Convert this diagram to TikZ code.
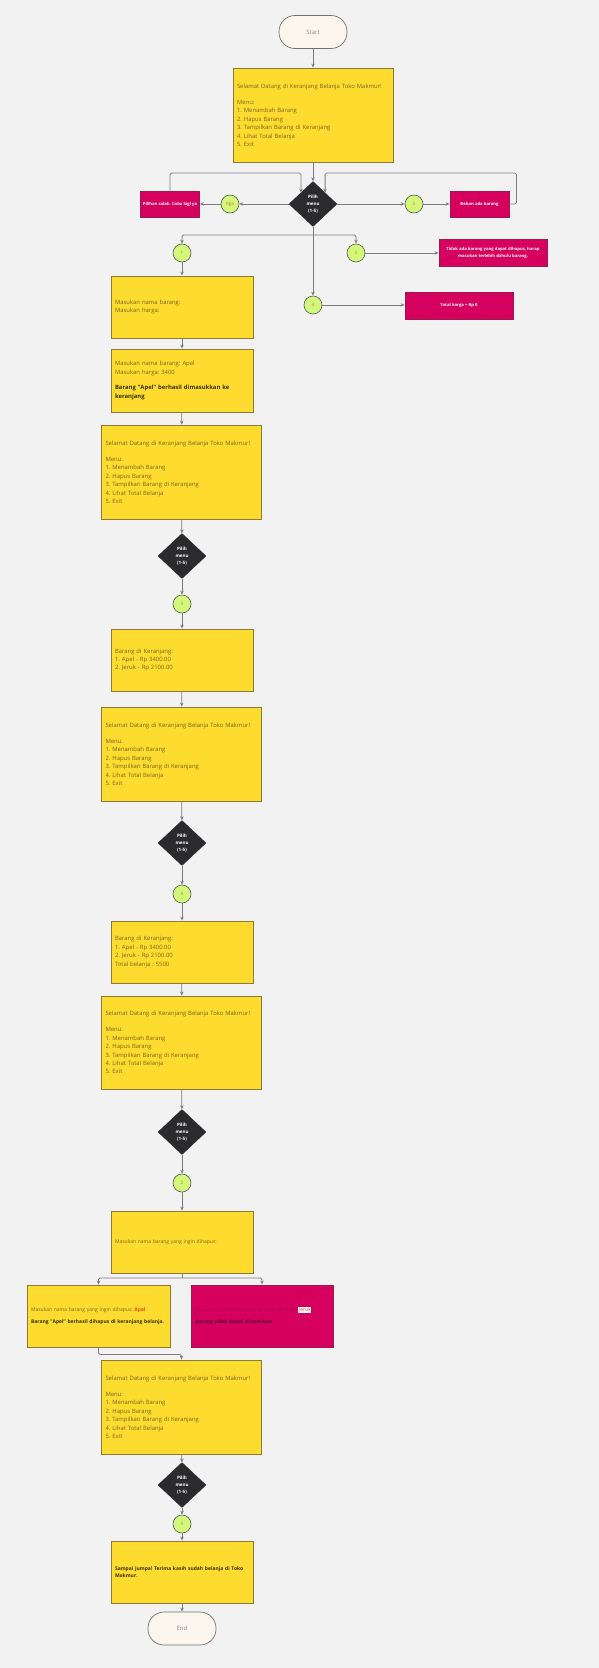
\documentclass[tikz,border=0pt]{standalone}
\usepackage{fontspec}
\setmainfont{Open Sans}
\usetikzlibrary{shapes.geometric,arrows.meta}
\definecolor{bg}{HTML}{F2F2F2}
\definecolor{yel}{HTML}{FDDB2F}
\definecolor{ybd}{HTML}{8B7B3A}
\definecolor{ytxt}{HTML}{7A6620}
\definecolor{ybold}{HTML}{3A3000}
\definecolor{mag}{HTML}{D6005F}
\definecolor{rbd}{HTML}{9A1B50}
\definecolor{mtxt}{HTML}{A80E50}
\definecolor{mbold}{HTML}{5A0E30}
\definecolor{grn}{HTML}{D2F77A}
\definecolor{circd}{HTML}{555555}
\definecolor{ctxt}{HTML}{E0701A}
\definecolor{diaf}{HTML}{2B2B2E}
\definecolor{termf}{HTML}{FAF6EE}
\definecolor{termd}{HTML}{707070}
\definecolor{termt}{HTML}{8A8A8A}
\definecolor{arrc}{HTML}{7D7D7D}
\definecolor{apel}{HTML}{F04A10}
\newcommand\myfsmall{\fontsize{5}{6.5}\selectfont}
\begin{document}
\frenchspacing
\hyphenpenalty=10000
\exhyphenpenalty=10000
\begin{tikzpicture}[x=1pt,y=-1pt,
  arr/.style={draw=arrc, line width=0.8pt, rounded corners=1.5pt, -{Stealth[length=4pt,width=3.5pt]}},
  ln/.style={draw=arrc, line width=0.8pt},
  term/.style={draw=termd, fill=termf, rounded corners=16pt, minimum width=68pt, minimum height=33pt, line width=0.7pt, text=termt, font=\fontsize{6}{7}\selectfont, inner sep=0pt},
  ybox/.style={draw=ybd, fill=yel, line width=0.8pt, inner xsep=4pt, inner ysep=0pt, align=left, text=ytxt, font=\fontsize{5.9}{8.4}\selectfont},
  menubox/.style={ybox, text width=152pt, minimum height=94pt},
  sbox/.style={ybox, text width=134pt, minimum height=62pt},
  dbox/.style={draw=rbd, fill=mag, line width=0.8pt, inner xsep=4pt, inner ysep=0pt, align=left, text=mtxt, font=\myfsmall, text width=134pt, minimum height=62pt},
  rbox/.style={draw=rbd, fill=mag, line width=0.8pt, text=white, font=\fontsize{4.2}{7}\selectfont\bfseries, align=center, inner sep=0pt},
  dia/.style={diamond, fill=diaf, draw=diaf, minimum width=48pt, minimum height=45pt, inner sep=0pt, text=white, font=\fontsize{4.5}{7}\selectfont\bfseries, align=center},
  circ/.style={circle, fill=grn, draw=circd, line width=0.6pt, minimum size=18pt, inner sep=0pt, text=ctxt, font=\fontsize{4.5}{5}\selectfont}
]
\fill[bg] (0,0) rectangle (599,1668);
\useasboundingbox (0,0) rectangle (599,1668);

% top part
\node[term] (start) at (313,32) {Start};
\node[menubox] (menu1) at (313,115) {\mbox{Selamat Datang di Keranjang Belanja Toko Makmur!}\\[8pt]Menu:\\1. Menambah Barang\\2. Hapus Barang\\3. Tampilkan Barang di Keranjang\\4. Lihat Total Belanja\\5. Exit};
\node[dia] (dia1) at (313,204) {Pilih\\menu\\(1-5)};
\node[rbox, minimum width=59pt, minimum height=26pt] (wrong) at (170,204) {Pilihan salah. Coba lagi ya};
\node[circ] (tiga) at (230,204) {tiga};
\node[circ] (c2a) at (414,204) {2};
\node[rbox, minimum width=59pt, minimum height=26pt] (belum) at (479.5,204) {Belum ada barang};
\node[circ] (c1) at (182,253) {1};
\node[circ] (c3a) at (356,253) {3};
\node[rbox, minimum width=108pt, minimum height=27pt] (tidak) at (493,252.5) {Tidak ada barang yang dapat dihapus, harap\\masukan terlebih dahulu barang.};
\node[circ] (c4a) at (313,305) {4};
\node[rbox, minimum width=108pt, minimum height=27pt] (total0) at (459,305.5) {Total harga = Rp 0};

% column
\node[sbox] (in1) at (182,307) {Masukan nama barang:\\Masukan harga:};
\node[sbox, minimum height=63pt] (in2) at (182,380.5) {Masukan nama barang: Apel\\Masukan harga: 3400\\[7pt]{\color{ybold}\bfseries Barang "Apel" berhasil dimasukkan ke}\\{\color{ybold}\bfseries keranjang}};
\node[menubox] (menu2) at (181.5,472) {\mbox{Selamat Datang di Keranjang Belanja Toko Makmur!}\\[8pt]Menu:\\1. Menambah Barang\\2. Hapus Barang\\3. Tampilkan Barang di Keranjang\\4. Lihat Total Belanja\\5. Exit};
\node[dia] (dia2) at (182,556) {Pilih\\menu\\(1-5)};
\node[circ] (c3b) at (182,604) {3};
\node[sbox] (list1) at (182,660) {Barang di Keranjang:\\1. Apel - Rp 3400.00\\2. Jeruk - Rp 2100.00};
\node[menubox] (menu3) at (181.5,754) {\mbox{Selamat Datang di Keranjang Belanja Toko Makmur!}\\[8pt]Menu:\\1. Menambah Barang\\2. Hapus Barang\\3. Tampilkan Barang di Keranjang\\4. Lihat Total Belanja\\5. Exit};
\node[dia] (dia3) at (182,843) {Pilih\\menu\\(1-5)};
\node[circ] (c4b) at (182,894) {4};
\node[sbox] (list2) at (182,952) {Barang di Keranjang:\\1. Apel - Rp 3400.00\\2. Jeruk - Rp 2100.00\\Total belanja : 5500};
\node[menubox, minimum height=93pt] (menu4) at (181.5,1042.5) {\mbox{Selamat Datang di Keranjang Belanja Toko Makmur!}\\[8pt]Menu:\\1. Menambah Barang\\2. Hapus Barang\\3. Tampilkan Barang di Keranjang\\4. Lihat Total Belanja\\5. Exit};
\node[dia] (dia4) at (182,1132) {Pilih\\menu\\(1-5)};
\node[circ] (c2b) at (182,1183) {2};
\node[sbox, font=\myfsmall] (del) at (182,1242) {Masukan nama barang yang ingin dihapus:};
\node[sbox, font=\myfsmall, text width=135pt] (delok) at (98.5,1316) {Masukan nama barang yang ingin dihapus: {\color{apel}\bfseries Apel}\\[6pt]{\color{ybold}\bfseries Barang "Apel" berhasil dihapus di keranjang belanja.}};
\node[dbox] (delno) at (262,1316) {Masukan nama barang yang ingin dihapus: {\setlength\fboxsep{0.6pt}\colorbox{white}{\color{apel}Jeruk}}\\[6pt]{\color{mbold}\bfseries Barang tidak dapat ditemukan}};
\node[menubox] (menu5) at (181.5,1407) {\mbox{Selamat Datang di Keranjang Belanja Toko Makmur!}\\[8pt]Menu:\\1. Menambah Barang\\2. Hapus Barang\\3. Tampilkan Barang di Keranjang\\4. Lihat Total Belanja\\5. Exit};
\node[dia] (dia5) at (182,1485) {Pilih\\menu\\(1-5)};
\node[circ] (c5) at (182,1524) {5};
\node[sbox, font=\myfsmall] (bye) at (182,1572) {{\color{ybold}\bfseries Sampai jumpa! Terima kasih sudah belanja di Toko}\\{\color{ybold}\bfseries Makmur.}};
\node[term] (end) at (182,1628.5) {End};

% connectors top
\draw[arr] (start) -- (menu1);
\draw[arr] (menu1) -- (dia1);
\draw[arr] (dia1.west) -- (tiga);
\draw[arr] (tiga) -- (wrong);
\draw[arr] (dia1.east) -- (c2a);
\draw[arr] (c2a) -- (belum);
\coordinate (topline) at (0,173);
\draw[arr] (wrong.north) |- (topline -| dia1.north west) -- (dia1.north west);
\draw[arr] (belum.east) -- ++(7,0) |- (topline -| dia1.north east) -- (dia1.north east);
\coordinate (s1) at (313,235);
\draw[ln] (dia1.south) -- (s1);
\draw[arr] (s1) -- (c4a);
\draw[arr] (s1) -| (c1);
\draw[arr] (s1) -| (c3a);
\draw[arr] (c3a) -- (c3a -| tidak.west);
\draw[arr] (c4a) -- (c4a -| total0.west);

% column connectors
\draw[arr] (c1) -- (in1);
\draw[arr] (in1) -- (in2);
\draw[arr] (in2) -- (menu2);
\draw[arr] (menu2) -- (dia2);
\draw[arr] (dia2) -- (c3b);
\draw[arr] (c3b) -- (list1);
\draw[arr] (list1) -- (menu3);
\draw[arr] (menu3) -- (dia3);
\draw[arr] (dia3) -- (c4b);
\draw[arr] (c4b) -- (list2);
\draw[arr] (list2) -- (menu4);
\draw[arr] (menu4) -- (dia4);
\draw[arr] (dia4) -- (c2b);
\draw[arr] (c2b) -- (del);
\coordinate (s2) at (182,1278);
\draw[ln] (del.south) -- (s2);
\draw[arr] (s2) -| (delok.north);
\draw[arr] (s2) -| (delno.north);
\draw[arr] (delok.south) -- ++(0,7) -| (menu5.north);
\draw[arr] (menu5) -- (dia5);
\draw[arr] (dia5) -- (c5);
\draw[arr] (c5) -- (bye);
\draw[arr] (bye) -- (end);
\end{tikzpicture}
\end{document}
